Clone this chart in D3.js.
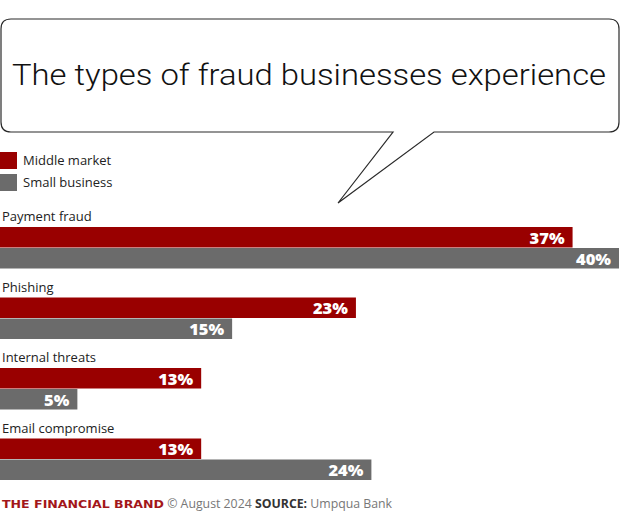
<!DOCTYPE html>
<html>
<head>
<meta charset="utf-8">
<script src="https://cdn.jsdelivr.net/npm/d3@7"></script>
<style>
  html, body { margin: 0; padding: 0; background: #fff; }
  svg { display: block; }
</style>
</head>
<body>
<svg id="chart" width="620" height="524"></svg>
<script>
const title = "The types of fraud businesses experience";
const categories = ["Payment fraud", "Phishing", "Internal threats", "Email compromise"];
const seriesNames = ["Middle market", "Small business"];
const middleMarket = [37, 23, 13, 13];
const smallBusiness = [40, 15, 5, 24];
const seriesColors = ["#990000", "#6b6b6b"];

const svg = d3.select("#chart");
const font = "'Open Sans', 'Noto Sans', sans-serif";

// Speech bubble
const L = 1, R = 619, T = 19, B = 132, r = 10;
const tailL = 393, tailR = 434, tipX = 338, tipY = 203;
const p = d3.path();
p.moveTo(L + r, T);
p.lineTo(R - r, T);
p.quadraticCurveTo(R, T, R, T + r);
p.lineTo(R, B - r);
p.quadraticCurveTo(R, B, R - r, B);
p.lineTo(tailR, B);
p.lineTo(tipX, tipY);
p.lineTo(tailL, B);
p.lineTo(L + r, B);
p.quadraticCurveTo(L, B, L, B - r);
p.lineTo(L, T + r);
p.quadraticCurveTo(L, T, L + r, T);
p.closePath();
svg.append("path").attr("d", p.toString())
  .attr("fill", "#fff").attr("stroke", "#2a2a2a").attr("stroke-width", 1.2);

svg.append("text")
  .attr("x", 12).attr("y", 85)
  .attr("textLength", 594).attr("lengthAdjust", "spacingAndGlyphs")
  .style("font-family", "Roboto, 'Open Sans', sans-serif")
  .style("font-size", "29px").style("font-weight", 300)
  .attr("fill", "#111")
  .text(title);

// Legend
const legend = svg.append("g");
seriesNames.forEach((name, i) => {
  const g = legend.append("g").attr("transform", `translate(0,${152 + i * 22})`);
  g.append("rect").attr("width", 17).attr("height", 17).attr("fill", seriesColors[i]);
  g.append("text").attr("x", 23).attr("y", 13)
    .style("font-family", font).style("font-size", "13px")
    .attr("fill", "#222").text(name);
});

// Scales
const x = d3.scaleLinear().domain([0, 40]).range([0, 619]);
const y0 = d3.scaleBand().domain(categories).range([206, 488]).paddingInner(0);
const y1 = d3.scaleBand().domain(seriesNames).range([21, 63]).paddingInner(0);

const data = categories.map((c, i) => ({
  cat: c,
  vals: [
    { s: seriesNames[0], v: middleMarket[i], color: seriesColors[0] },
    { s: seriesNames[1], v: smallBusiness[i], color: seriesColors[1] }
  ]
}));

const groups = svg.selectAll("g.grp").data(data).join("g")
  .attr("class", "grp")
  .attr("transform", d => `translate(0,${y0(d.cat)})`);

groups.append("text")
  .attr("x", 2).attr("y", 15)
  .style("font-family", font).style("font-size", "13px")
  .attr("fill", "#222")
  .text(d => d.cat);

groups.selectAll("rect").data(d => d.vals).join("rect")
  .attr("x", x(0))
  .attr("y", d => y1(d.s))
  .attr("width", d => x(d.v) - x(0))
  .attr("height", y1.bandwidth() - 0.5)
  .attr("fill", d => d.color);

groups.selectAll("text.val").data(d => d.vals).join("text")
  .attr("class", "val")
  .attr("x", d => x(d.v) - 8)
  .attr("y", d => y1(d.s) + y1.bandwidth() / 2 + 6)
  .attr("text-anchor", "end")
  .style("font-family", font).style("font-size", "16.5px").style("font-weight", 800)
  .attr("fill", "#fff")
  .text(d => d.v + "%");

// Footer
const foot = svg.append("text").attr("x", 2).attr("y", 508)
  .style("font-family", font).style("font-size", "12.3px");
foot.append("tspan")
  .style("font-family", "'DejaVu Sans', sans-serif").style("font-weight", 700)
  .style("font-size", "11px").attr("fill", "#a3161a")
  .attr("textLength", 162).attr("lengthAdjust", "spacingAndGlyphs")
  .text("THE FINANCIAL BRAND");
foot.append("tspan").attr("fill", "#777").text(" © August 2024 ");
foot.append("tspan").attr("fill", "#333").style("font-weight", 700).text("SOURCE:");
foot.append("tspan").attr("fill", "#777").text(" Umpqua Bank");
</script>
</body>
</html>
